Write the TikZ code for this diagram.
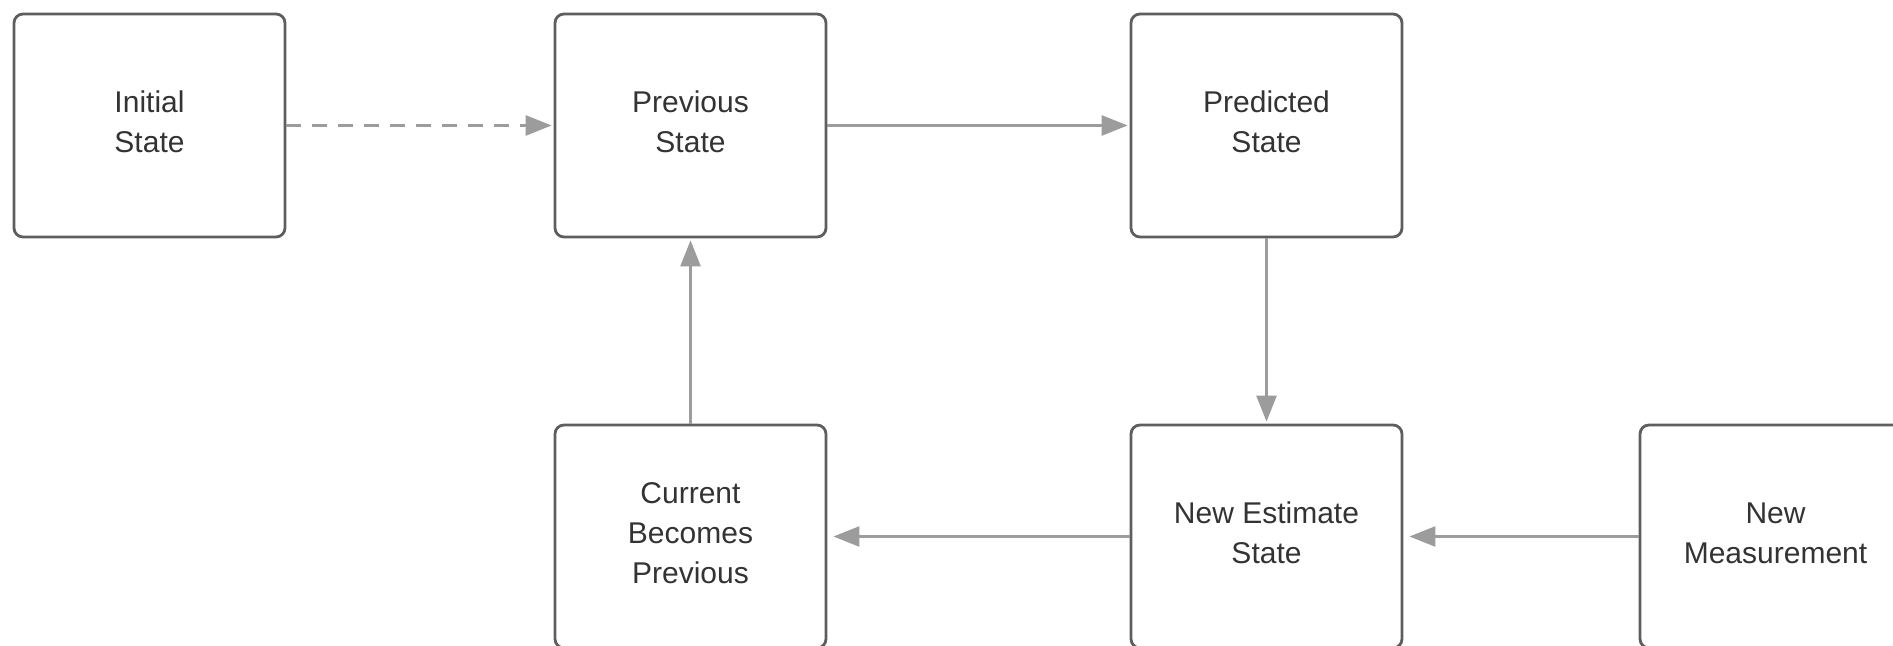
\documentclass[tikz,border=0pt]{standalone}
\usepackage{fontspec}
\setmainfont{Liberation Sans}
\usetikzlibrary{arrows.meta}
\definecolor{boxline}{HTML}{5E5E5E}
\definecolor{arrowcol}{HTML}{9C9C9C}
\definecolor{txtcol}{HTML}{333333}
\begin{document}
\begin{tikzpicture}[x=0.5pt,y=-0.5pt,
  stbox/.style={draw=boxline, line width=1.4pt, rounded corners=4.5pt, fill=white,
    minimum width=135.5pt, minimum height=111.5pt, align=center,
    font=\fontsize{15}{20}\selectfont, text=txtcol, inner sep=0pt, text depth=3.6pt},
  conn/.style={draw=arrowcol, line width=1.3pt, -{Triangle[length=13pt,width=10pt]}, shorten >=1pt},
  dashconn/.style={conn, dash pattern=on 7.5pt off 5.5pt}]
\useasboundingbox (0,0) rectangle (1893,646);
\clip (0,0) rectangle (1893,646);
\fill[white] (0,0) rectangle (1893,646);
\node[stbox] (init) at (149.5,125.5) {Initial\\State};
\node[stbox] (prev) at (690.5,125.5) {Previous\\State};
\node[stbox] (pred) at (1266.5,125.5) {Predicted\\State};
\node[stbox] (curr) at (690.5,536.5) {Current\\Becomes\\Previous};
\node[stbox] (newest) at (1266.5,536.5) {New Estimate\\State};
\node[stbox] (meas) at (1775.5,536.5) {New\\Measurement};
\draw[dashconn] (init) -- (prev);
\draw[conn] (prev) -- (pred);
\draw[conn] (pred) -- (newest);
\draw[conn, shorten >=3pt] (meas) -- (newest);
\draw[conn, shorten >=3pt] (newest) -- (curr);
\draw[conn] (curr) -- (prev);
\end{tikzpicture}
\end{document}
